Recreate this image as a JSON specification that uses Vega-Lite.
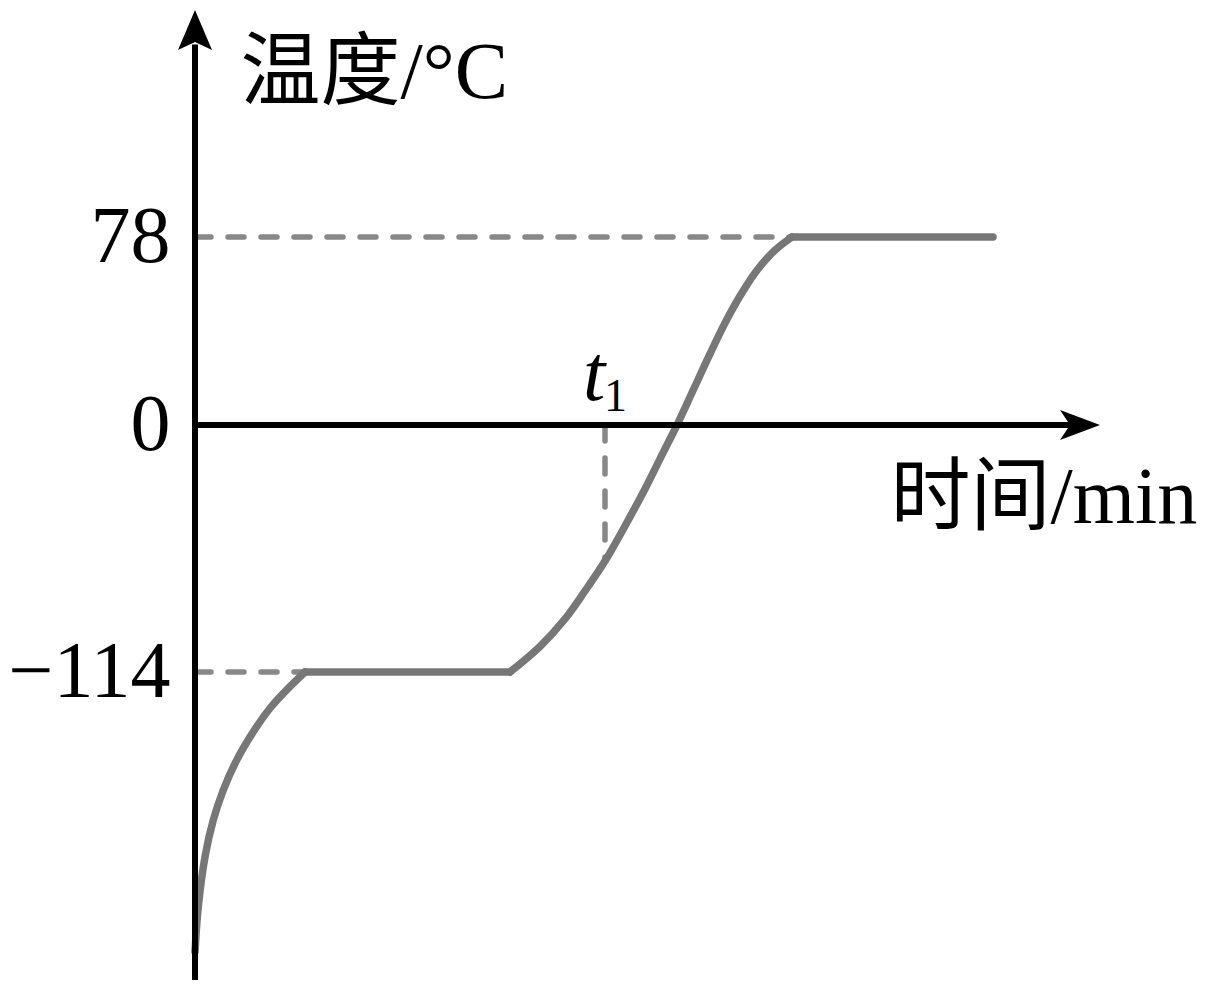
{
  "$schema": "https://vega.github.io/schema/vega-lite/v6.json",
  "width": 905,
  "height": 970,
  "autosize": {"type": "none"},
  "padding": {"left": 195, "top": 10, "right": 113, "bottom": 11},
  "background": "white",
  "config": {"view": {"stroke": null}},
  "datasets": {
    "curve": [
      {"phase": "solid", "x": 0, "y": -237.5}, {"phase": "solid", "x": 0.33, "y": -217.6},
      {"phase": "solid", "x": 1.0, "y": -195.6}, {"phase": "solid", "x": 1.83, "y": -179.4},
      {"phase": "solid", "x": 2.83, "y": -166.1}, {"phase": "solid", "x": 4.17, "y": -152.9},
      {"phase": "solid", "x": 5.83, "y": -140.4}, {"phase": "solid", "x": 7.5, "y": -130.0},
      {"phase": "solid", "x": 9.17, "y": -121.9}, {"phase": "solid", "x": 11.0, "y": -114},
      {"phase": "melting", "x": 11.0, "y": -114}, {"phase": "melting", "x": 31.5, "y": -114},
      {"phase": "liquid", "x": 31.5, "y": -114}, {"phase": "liquid", "x": 34.5, "y": -102.2},
      {"phase": "liquid", "x": 37.0, "y": -89.5}, {"phase": "liquid", "x": 39.0, "y": -76.6},
      {"phase": "liquid", "x": 41.0, "y": -62.8}, {"phase": "liquid", "x": 43.0, "y": -46.6},
      {"phase": "liquid", "x": 45.0, "y": -29.5}, {"phase": "liquid", "x": 46.7, "y": -13.8},
      {"phase": "liquid", "x": 48.2, "y": 0}, {"phase": "liquid", "x": 49.8, "y": 14.3},
      {"phase": "liquid", "x": 51.5, "y": 29.5}, {"phase": "liquid", "x": 53.0, "y": 42.3},
      {"phase": "liquid", "x": 54.5, "y": 53.5}, {"phase": "liquid", "x": 56.0, "y": 63.1},
      {"phase": "liquid", "x": 57.5, "y": 70.5}, {"phase": "liquid", "x": 58.5, "y": 74.3},
      {"phase": "liquid", "x": 59.7, "y": 78},
      {"phase": "boiling", "x": 59.7, "y": 78}, {"phase": "boiling", "x": 79.8, "y": 78}
    ],
    "guides": [
      {"x": 0, "x2": 59.7, "y": 78, "y2": 78},
      {"x": 0, "x2": 11.0, "y": -114, "y2": -114},
      {"x": 41.0, "x2": 41.0, "y": 0, "y2": -62.8}
    ],
    "axislines": [
      {"x": 0, "x2": 0, "y": -250, "y2": 156},
      {"x": 0, "x2": 88, "y": 0, "y2": 0}
    ],
    "uparrow": [{"x": 0, "y": 170}],
    "rightarrow": [{"x": 90.5, "y": 0}],
    "tlabel": [{"x": 38.8, "y": 10.4, "label": "t"}],
    "sublabel": [{"x": 40.9, "y": 5.8, "label": "1"}]
  },
  "encoding": {
    "x": {
      "field": "x",
      "type": "quantitative",
      "scale": {"domain": [0, 90.5], "zero": false, "nice": false},
      "axis": {
        "domain": false, "ticks": false, "labels": false, "grid": false,
        "title": "时间/min",
        "titleFont": "Liberation Serif, Noto Sans CJK SC",
        "titleFontSize": 80, "titleFontWeight": "normal", "titleColor": "black",
        "titleAlign": "left", "titleBaseline": "alphabetic",
        "titleX": 695, "titleY": -458
      }
    },
    "y": {
      "field": "y",
      "type": "quantitative",
      "scale": {"domain": [-250, -114, 0, 78, 170], "range": [970, 662, 415, 227, 0], "zero": false, "nice": false},
      "axis": {
        "values": [78, 0, -114],
        "domain": false, "ticks": false, "grid": false,
        "labelFont": "Liberation Serif", "labelFontSize": 80, "labelColor": "black",
        "labelPadding": 25, "labelFlush": false, "labelOverlap": false, "labelBound": false,
        "title": "温度/°C",
        "titleFont": "Liberation Serif, Noto Sans CJK SC",
        "titleFontSize": 80, "titleFontWeight": "normal", "titleColor": "black",
        "titleAngle": 0, "titleAlign": "left", "titleBaseline": "alphabetic",
        "titleX": 45, "titleY": 87
      }
    }
  },
  "layer": [
    {
      "data": {"name": "guides"},
      "mark": {"type": "rule", "color": "#888888", "strokeWidth": 5.5, "strokeDash": [16, 17], "strokeCap": "round"},
      "encoding": {"x2": {"field": "x2"}, "y2": {"field": "y2"}}
    },
    {
      "data": {"name": "curve"},
      "mark": {"type": "line", "color": "#777777", "strokeWidth": 7.5, "strokeCap": "round", "strokeJoin": "round", "interpolate": "catmull-rom"},
      "encoding": {"detail": {"field": "phase"}}
    },
    {
      "data": {"name": "axislines"},
      "mark": {"type": "rule", "color": "black", "strokeWidth": 6},
      "encoding": {"x2": {"field": "x2"}, "y2": {"field": "y2"}}
    },
    {
      "data": {"name": "uparrow"},
      "mark": {"type": "point", "shape": "M0,0 L0.85,2 L0,1.6 L-0.85,2 Z", "size": 1600, "filled": true, "color": "black", "opacity": 1, "strokeWidth": 0}
    },
    {
      "data": {"name": "rightarrow"},
      "mark": {"type": "point", "shape": "M0,0 L-2,-0.75 L-1.5,0 L-2,0.75 Z", "size": 1600, "filled": true, "color": "black", "opacity": 1, "strokeWidth": 0}
    },
    {
      "data": {"name": "tlabel"},
      "mark": {"type": "text", "font": "Liberation Serif", "fontStyle": "italic", "fontSize": 80, "align": "left", "baseline": "alphabetic", "color": "black"},
      "encoding": {"text": {"field": "label"}}
    },
    {
      "data": {"name": "sublabel"},
      "mark": {"type": "text", "font": "Liberation Serif", "fontSize": 46, "align": "left", "baseline": "alphabetic", "color": "black"},
      "encoding": {"text": {"field": "label"}}
    }
  ]
}
